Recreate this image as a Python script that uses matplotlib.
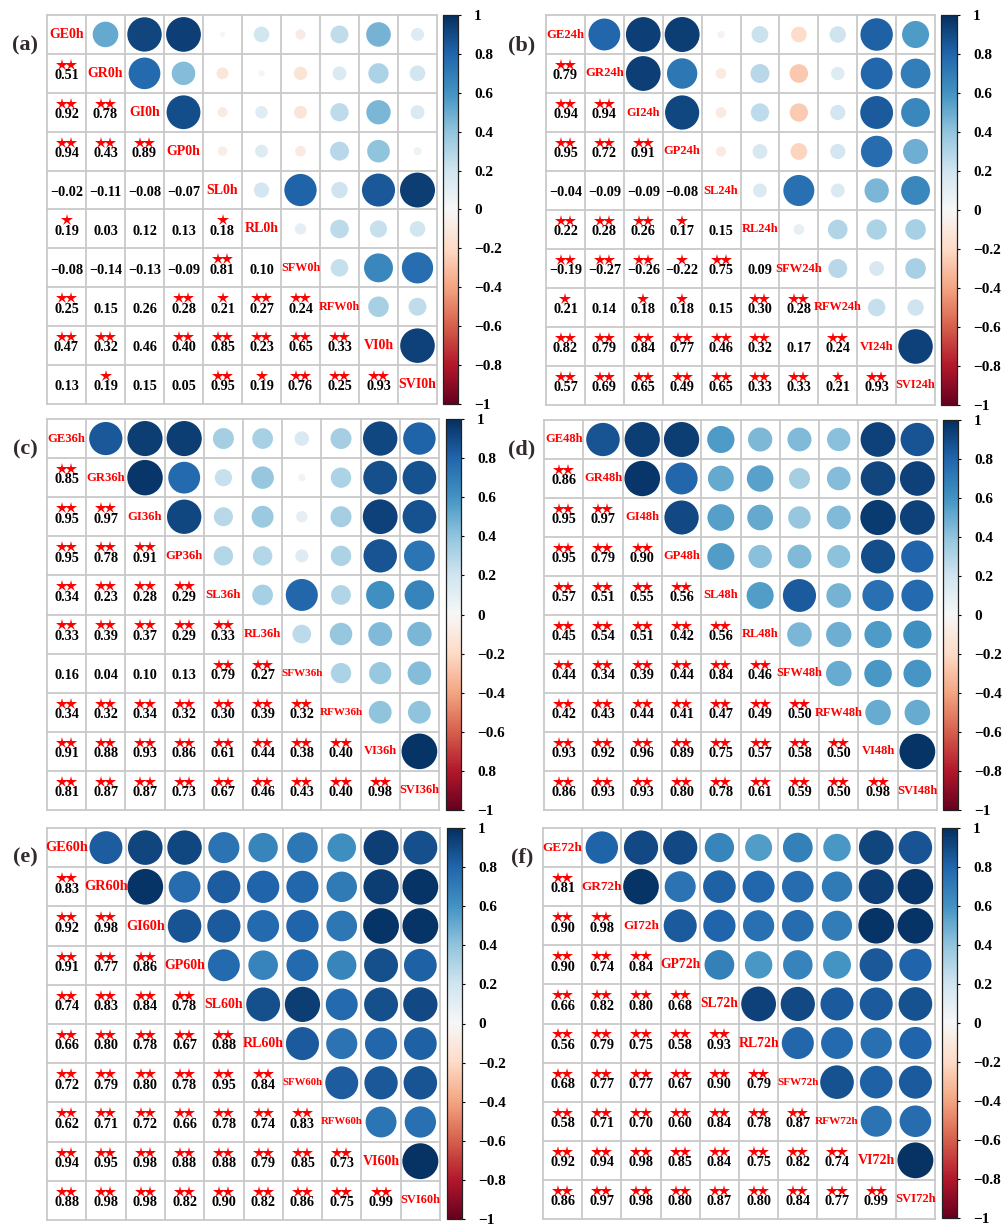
import numpy as np
import matplotlib
matplotlib.use("Agg")
import matplotlib.pyplot as plt
from matplotlib.patches import Circle
from matplotlib.colors import Normalize
from matplotlib.cm import ScalarMappable

# ---------------- data ----------------
variables = ["GE", "GR", "GI", "GP", "SL", "RL", "SFW", "RFW", "VI", "SVI"]
times = ["0h", "24h", "36h", "48h", "60h", "72h"]
panel_letters = ["(a)", "(b)", "(c)", "(d)", "(e)", "(f)"]

# lower-triangle correlations (row i has i values)
r_0h = [[0.51],
        [0.92, 0.78],
        [0.94, 0.43, 0.89],
        [-0.02, -0.11, -0.08, -0.07],
        [0.19, 0.03, 0.12, 0.13, 0.18],
        [-0.08, -0.14, -0.13, -0.09, 0.81, 0.10],
        [0.25, 0.15, 0.26, 0.28, 0.21, 0.27, 0.24],
        [0.47, 0.32, 0.46, 0.40, 0.85, 0.23, 0.65, 0.33],
        [0.13, 0.19, 0.15, 0.05, 0.95, 0.19, 0.76, 0.25, 0.93]]
sig_0h = [[2], [2, 2], [2, 2, 2], [0, 0, 0, 0], [1, 0, 0, 0, 1],
          [0, 0, 0, 0, 2, 0], [2, 0, 0, 2, 1, 2, 2],
          [2, 2, 0, 2, 2, 2, 2, 2], [0, 1, 0, 0, 2, 1, 2, 2, 2]]

r_24h = [[0.79],
         [0.94, 0.94],
         [0.95, 0.72, 0.91],
         [-0.04, -0.09, -0.09, -0.08],
         [0.22, 0.28, 0.26, 0.17, 0.15],
         [-0.19, -0.27, -0.26, -0.22, 0.75, 0.09],
         [0.21, 0.14, 0.18, 0.18, 0.15, 0.30, 0.28],
         [0.82, 0.79, 0.84, 0.77, 0.46, 0.32, 0.17, 0.24],
         [0.57, 0.69, 0.65, 0.49, 0.65, 0.33, 0.33, 0.21, 0.93]]
sig_24h = [[2], [2, 2], [2, 2, 2], [0, 0, 0, 0], [2, 2, 2, 1, 0],
           [2, 2, 2, 1, 2, 0], [1, 0, 1, 1, 0, 2, 2],
           [2, 2, 2, 2, 2, 2, 0, 2], [2, 2, 2, 2, 2, 2, 2, 1, 2]]

r_36h = [[0.85],
         [0.95, 0.97],
         [0.95, 0.78, 0.91],
         [0.34, 0.23, 0.28, 0.29],
         [0.33, 0.39, 0.37, 0.29, 0.33],
         [0.16, 0.04, 0.10, 0.13, 0.79, 0.27],
         [0.34, 0.32, 0.34, 0.32, 0.30, 0.39, 0.32],
         [0.91, 0.88, 0.93, 0.86, 0.61, 0.44, 0.38, 0.40],
         [0.81, 0.87, 0.87, 0.73, 0.67, 0.46, 0.43, 0.40, 0.98]]
sig_36h = [[2], [2, 2], [2, 2, 2], [2, 2, 2, 2], [2, 2, 2, 2, 2],
           [0, 0, 0, 0, 2, 2], [2, 2, 2, 2, 2, 2, 2],
           [2, 2, 2, 2, 2, 2, 2, 2], [2, 2, 2, 2, 2, 2, 2, 2, 2]]

r_48h = [[0.86],
         [0.95, 0.97],
         [0.95, 0.79, 0.90],
         [0.57, 0.51, 0.55, 0.56],
         [0.45, 0.54, 0.51, 0.42, 0.56],
         [0.44, 0.34, 0.39, 0.44, 0.84, 0.46],
         [0.42, 0.43, 0.44, 0.41, 0.47, 0.49, 0.50],
         [0.93, 0.92, 0.96, 0.89, 0.75, 0.57, 0.58, 0.50],
         [0.86, 0.93, 0.93, 0.80, 0.78, 0.61, 0.59, 0.50, 0.98]]
sig_48h = [[2], [2, 2], [2, 2, 2], [2, 2, 2, 2], [2, 2, 2, 2, 2],
           [2, 2, 2, 2, 2, 2], [2, 2, 2, 2, 2, 2, 2],
           [2, 2, 2, 2, 2, 2, 2, 2], [2, 2, 2, 2, 2, 2, 2, 2, 2]]

r_60h = [[0.83],
         [0.92, 0.98],
         [0.91, 0.77, 0.86],
         [0.74, 0.83, 0.84, 0.78],
         [0.66, 0.80, 0.78, 0.67, 0.88],
         [0.72, 0.79, 0.80, 0.78, 0.95, 0.84],
         [0.62, 0.71, 0.72, 0.66, 0.78, 0.74, 0.83],
         [0.94, 0.95, 0.98, 0.88, 0.88, 0.79, 0.85, 0.73],
         [0.88, 0.98, 0.98, 0.82, 0.90, 0.82, 0.86, 0.75, 0.99]]
sig_60h = sig_48h

r_72h = [[0.81],
         [0.90, 0.98],
         [0.90, 0.74, 0.84],
         [0.66, 0.82, 0.80, 0.68],
         [0.56, 0.79, 0.75, 0.58, 0.93],
         [0.68, 0.77, 0.77, 0.67, 0.90, 0.79],
         [0.58, 0.71, 0.70, 0.60, 0.84, 0.78, 0.87],
         [0.92, 0.94, 0.98, 0.85, 0.84, 0.75, 0.82, 0.74],
         [0.86, 0.97, 0.98, 0.80, 0.87, 0.80, 0.84, 0.77, 0.99]]
sig_72h = sig_48h

cbar_ticks = [1, 0.8, 0.6, 0.4, 0.2, 0, -0.2, -0.4, -0.6, -0.8, -1]
cbar_labels = ["1", "0.8", "0.6", "0.4", "0.2", "0", "\u22120.2", "\u22120.4",
               "\u22120.6", "\u22120.8", "\u22121"]
cbar_labels_c = ["1", "0.8", "0.6", "0.4", "0.2", "0", "\u22120.2", "\u22120.4",
                 "\u22120.6", "0.8", "\u22121"]

all_r = [r_0h, r_24h, r_36h, r_48h, r_60h, r_72h]
all_sig = [sig_0h, sig_24h, sig_36h, sig_48h, sig_60h, sig_72h]
all_cbar_labels = [cbar_labels, cbar_labels, cbar_labels_c, cbar_labels,
                   cbar_labels, cbar_labels]

# ---------------- layout / style (pixels) ----------------
W, H = 1007, 1226
grid_boxes = [(47, 15, 437, 404), (546, 15, 935, 405),
              (47, 419, 439, 810), (544, 420, 937, 810),
              (47, 828, 440, 1220), (543, 828, 935, 1219)]
cbar_boxes = [(443, 15, 458, 404), (941, 15, 957, 405),
              (446, 419, 461, 810), (943, 420, 958, 810),
              (447, 828, 462, 1219), (942, 828, 957, 1218)]
letter_pos = [(25, 45), (522, 45), (25, 449), (522, 449), (25, 857), (522, 857)]
# diagonal label em sizes in pixels, per panel
label_px = [[14, 14, 14, 14, 14, 14, 12.1, 12.1, 14, 14],
            [12.7, 12.7, 12.2, 12.5, 12.5, 12.5, 12.6, 12.4, 12.6, 12.3],
            [12.6, 12.6, 12.6, 12.6, 12.8, 12.6, 11.1, 11.1, 12.4, 12.4],
            [12.5, 12.5, 12.5, 12.5, 12.5, 12.5, 12.4, 12.4, 12.5, 12.5],
            [14.3, 14.3, 14.3, 14.0, 14.0, 14.0, 10.7, 10.7, 14.0, 12.4],
            [13.2, 13.2, 13.2, 13.6, 13.5, 13.7, 11.1, 11.3, 14.0, 12.6]]

SERIF = ["Liberation Serif", "DejaVu Serif"]
cmap = plt.get_cmap("RdBu")
norm = Normalize(-1, 1)

fig = plt.figure(figsize=(W / 100, H / 100), dpi=100)
fig.patch.set_facecolor("white")


def px_axes(box):
    x0, y0, x1, y1 = box
    return fig.add_axes([x0 / W, 1 - y1 / H, (x1 - x0) / W, (y1 - y0) / H])


def fmt(v):
    s = f"{v:.2f}"
    return s.replace("-", "\u2212")


n = len(variables)

for p in range(6):
    ax = px_axes(grid_boxes[p])
    ax.set_xlim(0, n)
    ax.set_ylim(n, 0)
    ax.axis("off")
    R = np.eye(n)
    for i in range(1, n):
        for j in range(i):
            R[i, j] = all_r[p][i - 1][j]
            R[j, i] = all_r[p][i - 1][j]
    # grid
    for k in range(n + 1):
        ax.plot([k, k], [0, n], color="#c9c9c9", lw=1.3, clip_on=False, zorder=1)
        ax.plot([0, n], [k, k], color="#c9c9c9", lw=1.3, clip_on=False, zorder=1)
    # upper triangle circles
    for i in range(n):
        for j in range(i + 1, n):
            v = R[i, j]
            rad = 0.46 * np.sqrt(abs(v))
            ax.add_patch(Circle((j + 0.5, i + 0.5), rad, facecolor=cmap(norm(v)),
                                edgecolor="none", zorder=2))
    # lower triangle numbers and stars
    for i in range(1, n):
        for j in range(i):
            v = R[i, j]
            ax.text(j + 0.5, i + 0.56, fmt(v), ha="center", va="center",
                    fontsize=10.3, fontweight="bold", family=SERIF, color="black",
                    zorder=3)
            s = all_sig[p][i - 1][j]
            if s == 2:
                ax.plot([j + 0.385, j + 0.615], [i + 0.28, i + 0.28], ls="none",
                        marker="*", ms=9, color="red", mew=0, zorder=4)
            elif s == 1:
                ax.plot([j + 0.5], [i + 0.28], ls="none", marker="*", ms=9,
                        color="red", mew=0, zorder=4)
    # diagonal labels
    for i in range(n):
        ax.text(i + 0.5, i + 0.5, variables[i] + times[p], ha="center",
                va="center", fontsize=label_px[p][i] * 0.72, fontweight="bold",
                family=SERIF, color="red", zorder=3)
    # colorbar
    cax = px_axes(cbar_boxes[p])
    sm = ScalarMappable(norm=norm, cmap=cmap)
    cb = fig.colorbar(sm, cax=cax, ticks=cbar_ticks)
    cb.ax.set_yticklabels(all_cbar_labels[p])
    cb.outline.set_linewidth(0.9)
    cb.outline.set_edgecolor("#222222")
    cb.ax.tick_params(length=2.5, width=0.8, pad=9, labelsize=11)
    for lab in cb.ax.get_yticklabels():
        lab.set_fontfamily(SERIF)
        lab.set_fontweight("bold")
    # panel letter
    lx, ly = letter_pos[p]
    fig.text(lx / W, 1 - ly / H, panel_letters[p], ha="center", va="center",
             fontsize=16, fontweight="bold", family=SERIF, color="#332b2b")

fig.savefig("out.png", dpi=100, facecolor="white")
